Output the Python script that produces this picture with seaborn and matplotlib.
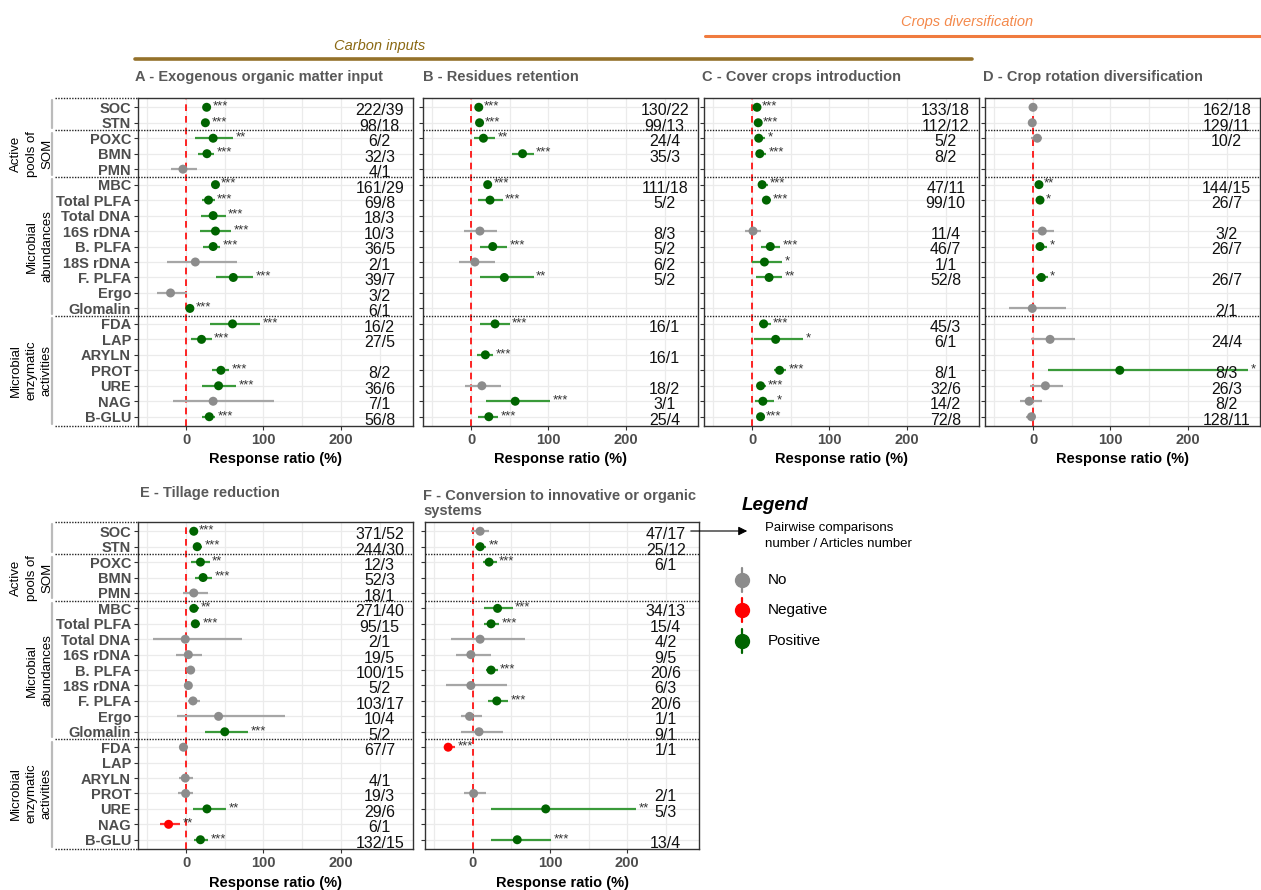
import numpy as np
import pandas as pd
import matplotlib
matplotlib.use("Agg")
import matplotlib.pyplot as plt
import matplotlib.transforms as mtransforms
from matplotlib.lines import Line2D
from matplotlib.patches import FancyArrowPatch
import seaborn as sns

nan = np.nan

categories = ["SOC", "STN", "POXC", "BMN", "PMN", "MBC", "Total PLFA", "Total DNA",
              "16S rDNA", "B. PLFA", "18S rDNA", "F. PLFA", "Ergo", "Glomalin",
              "FDA", "LAP", "ARYLN", "PROT", "URE", "NAG", "B-GLU"]
group_labels = ["Active\npools of\nSOM", "Microbial\nabundances", "Microbial\nenzymatic\nactivities"]
x_ticks = [0, 100, 200]

# Panel A - Exogenous organic matter input
A_est = [26.6, 25, 35, 27, -4, 38, 29, 35, 38, 35, 12, 61, -20, 5, 60, 20, nan, 45, 42, 35, 30]
A_lo = [22, 20, 11, 16, -20, 34, 21, 19, 18, 22, -24, 39, -38, 1, 31, 7, nan, 33, 20, -17, 21]
A_hi = [31, 30, 61, 36, 14, 42, 37, 51, 58, 44, 66, 87, 1, 10, 96, 33, nan, 56, 65, 114, 38]
A_sig = ["***", "***", "**", "***", "", "***", "***", "***", "***", "***", "", "***", "", "***",
         "***", "***", "", "***", "***", "", "***"]
A_n = ["222/39", "98/18", "6/2", "32/3", "4/1", "161/29", "69/8", "18/3", "10/3", "36/5", "2/1",
       "39/7", "3/2", "6/1", "16/2", "27/5", "", "8/2", "36/6", "7/1", "56/8"]

# Panel B - Residues retention
B_est = [10, 11, 16, 66.5, nan, 21.5, 24.5, nan, 11.5, 28, 5, 43, nan, nan, 31, nan, 18.5, nan, 14, 57, 23]
B_lo = [6, 7, 4, 53, nan, 17, 9, nan, -9, 11, -16, 11, nan, nan, 12, nan, 8, nan, -8, 19, 9]
B_hi = [14, 15, 31, 81, nan, 26, 41, nan, 33, 47, 31, 81, nan, nan, 50, nan, 29, nan, 39, 102, 35]
B_sig = ["***", "***", "**", "***", "", "***", "***", "", "", "***", "", "**", "", "",
         "***", "", "***", "", "", "***", "***"]
B_n = ["130/22", "99/13", "24/4", "35/3", "", "111/18", "5/2", "", "8/3", "5/2", "6/2", "5/2",
       "", "", "16/1", "", "16/1", "", "18/2", "3/1", "25/4"]

# Panel C - Cover crops introduction
C_est = [6.4, 8, 8.6, 10, nan, 13, 18.5, nan, 1.3, 23.6, 16, 22, nan, nan, 15, 30.5, nan, 35.6, 11, 14, 11]
C_lo = [3, 5, 3.4, 5, nan, 9, 14, nan, -9, 11, 0, 5.6, nan, nan, 8.6, 2, nan, 28, 7, 3.4, 8]
C_hi = [10, 11, 17, 18, nan, 20, 24, nan, 11, 36.5, 38.6, 38.6, nan, nan, 24, 66, nan, 44, 17.6, 29, 15]
C_sig = ["***", "***", "*", "***", "", "***", "***", "", "", "***", "*", "**", "", "",
         "***", "*", "", "***", "***", "*", "***"]
C_n = ["133/18", "112/12", "5/2", "8/2", "", "47/11", "99/10", "", "11/4", "46/7", "1/1", "52/8",
       "", "", "45/3", "6/1", "", "8/1", "32/6", "14/2", "72/8"]

# Panel D - Crop rotation diversification
D_est = [0, -1, 5.5, nan, nan, 7.7, 9, nan, 12, 9, nan, 10.7, nan, -1, nan, 22, nan, 112, 16, -5, -2]
D_lo = [-1.5, -2.5, -2, nan, nan, 5, 4, nan, -1, 3.4, nan, 4, nan, -31, nan, -3, nan, 19, -4, -17, -8.5]
D_hi = [1.5, 0.5, 12, nan, nan, 10.5, 14, nan, 26.5, 18, nan, 19, nan, 42, nan, 54, nan, 278, 39, 11, 2]
D_sig = ["", "", "", "", "", "**", "*", "", "", "*", "", "*", "", "", "", "", "", "*", "", "", ""]
D_n = ["162/18", "129/11", "10/2", "", "", "144/15", "26/7", "", "3/2", "26/7", "", "26/7", "",
       "2/1", "", "24/4", "", "8/3", "26/3", "8/2", "128/11"]

# Panel E - Tillage reduction
E_est = [10, 14.4, 18.6, 22, 10, 10, 12, -1, 3, 6, 3, 9, 42, 50, -3.4, nan, -1, -0.5, 27, -22.5, 18.6]
E_lo = [7, 9, 7, 11, -3.4, 5, 7, -43, -13, 2, -0.5, 2, -12, 25, -7, nan, -9, -10, 9, -33, 10]
E_hi = [13, 21, 30.5, 33.5, 29, 16.5, 18.6, 72, 20, 11.4, 7, 18.6, 127.5, 80, 3, nan, 9, 9, 52, -7.6, 29]
E_sig = ["***", "***", "**", "***", "", "**", "***", "", "", "", "", "", "", "***", "", "", "", "",
         "**", "**", "***"]
E_n = ["371/52", "244/30", "12/3", "52/3", "18/1", "271/40", "95/15", "2/1", "19/5", "100/15", "5/2",
       "103/17", "10/4", "5/2", "67/7", "", "4/1", "19/3", "29/6", "6/1", "132/15"]

# Panel F - Conversion to innovative or organic systems
F_est = [9.4, 9.4, 21, nan, nan, 32, 23.6, 9.4, -2.6, 23.6, -2.6, 31, -4.3, 8, -32, nan, nan, 1, 94.4, nan, 57.5]
F_lo = [-2, 3, 13, nan, nan, 14.6, 14.6, -28, -21.5, 17, -35, 19, -16, -16, -36.5, nan, nan, -11, 23.6, nan, 23.6]
F_hi = [21.5, 17, 31, nan, nan, 51.5, 34, 67, 23.6, 32, 44.6, 46, 11.6, 38.6, -23, nan, nan, 17, 212, nan, 101.7]
F_sig = ["", "**", "***", "", "", "***", "***", "", "", "***", "", "***", "", "", "***", "", "", "",
         "**", "", "***"]
F_n = ["47/17", "25/12", "6/1", "", "", "34/13", "15/4", "4/2", "9/5", "20/6", "6/3", "20/6", "1/1",
       "9/1", "1/1", "", "", "2/1", "5/3", "", "13/4"]

panel_titles = ["A - Exogenous organic matter input", "B - Residues retention",
                "C - Cover crops introduction", "D - Crop rotation diversification",
                "E - Tillage reduction", "F - Conversion to innovative or organic\nsystems"]

# ---------------------------------------------------------------- style
sns.set_theme(style="ticks")
plt.rcParams["font.family"] = ["Liberation Sans", "DejaVu Sans"]

W, H = 1261, 890
fig = plt.figure(figsize=(W / 100, H / 100), dpi=100)


def rect(l, t, w, h):
    return [l / W, 1 - (t + h) / H, w / W, h / H]


point_col = {"No": "#8C8C8C", "Negative": "#FF0000", "Positive": "#006400"}
line_col = {"No": "#A6A6A6", "Negative": "#FF3030", "Positive": "#3A9A3A"}
TICKGREY = "#4D4D4D"
NROW = len(categories)


def draw_panel(ax, est, lo, hi, sig, n, show_labels, xlabel=True):
    df = pd.DataFrame({"row": np.arange(NROW), "est": est, "lo": lo, "hi": hi, "sig": sig, "n": n})
    df["cls"] = np.where(df["sig"] == "", "No", np.where(df["est"] < 0, "Negative", "Positive"))
    d = df.dropna(subset=["est"])
    ax.set_xlim(-62, 293)
    ax.set_ylim(NROW - 0.4, -0.6)
    ax.set_xticks(x_ticks)
    ax.set_xticks([-50, 50, 150, 250], minor=True)
    ax.set_yticks(np.arange(NROW))
    ax.grid(True, which="both", color="#EBEBEB", lw=0.9, zorder=0)
    ax.set_axisbelow(True)
    ax.axvline(0, color="#FF0000", ls=(0, (4, 3)), lw=1.2, zorder=2)
    for _, r in d.iterrows():
        ax.hlines(r["row"], r["lo"], r["hi"], color=line_col[r["cls"]], lw=1.6, zorder=3)
    sns.scatterplot(data=d, x="est", y="row", hue="cls", palette=point_col,
                    hue_order=["No", "Negative", "Positive"], s=42, edgecolor="none",
                    legend=False, ax=ax, zorder=4)
    for _, r in d.iterrows():
        if r["sig"]:
            ax.text(r["hi"] + 3, r["row"] - 0.05, r["sig"], fontsize=9.5, color="#333333",
                    ha="left", va="center", zorder=5)
    for _, r in df.iterrows():
        if r["n"]:
            ax.text(250, r["row"] + 0.22, r["n"], fontsize=11.5, color="#111111",
                    ha="center", va="center", zorder=5)
    for b in [1.5, 4.5, 13.5]:
        ax.axhline(b, color="#222222", ls=(0, (1, 1)), lw=1.0, zorder=5)
    ax.tick_params(axis="y", which="major", length=3, width=0.8, color="#333333",
                   labelsize=10.5, labelcolor=TICKGREY, pad=2)
    ax.tick_params(axis="x", which="major", length=3, width=0.8, color="#333333",
                   labelsize=10.5, labelcolor=TICKGREY, pad=2)
    ax.tick_params(axis="x", which="minor", length=0)
    if show_labels:
        ax.set_yticklabels(categories, fontweight="bold")
    else:
        ax.set_yticklabels([])
    for lab in ax.get_xticklabels():
        lab.set_fontweight("bold")
    ax.set_ylabel("")
    if xlabel:
        ax.set_xlabel("Response ratio (%)", fontsize=10.5, fontweight="bold", color="black", labelpad=4)
    else:
        ax.set_xlabel("")
    for s in ax.spines.values():
        s.set_color("#333333")
        s.set_linewidth(1.0)


def draw_groups(ax):
    tr = mtransforms.blended_transform_factory(fig.transFigure, ax.transData)
    for b in [-0.6, 1.5, 4.5, 13.5, NROW - 0.4]:
        fig.add_artist(Line2D([55 / W, ax.get_position().x0], [b, b], transform=tr,
                              color="#222222", ls=(0, (1, 1)), lw=1.0))
    spans = [(-0.6, 1.5), (1.5, 4.5), (4.5, 13.5), (13.5, NROW - 0.4)]
    for a, b in spans:
        fig.add_artist(Line2D([52 / W, 52 / W], [a + 0.15, b - 0.15], transform=tr,
                              color="#BBBBBB", lw=1.6))
    centers = [(32, 3), (39.5, 9), (31, 17)]
    for (xp, yc), lab in zip(centers, group_labels):
        t = fig.text(xp / W, 0, lab, transform=tr, rotation=90, ha="center", va="center",
                     fontsize=9.5, color="black", linespacing=1.4, multialignment="center")
        t.set_position((xp / W, yc))


panels = [
    (rect(138, 98, 275, 328), A_est, A_lo, A_hi, A_sig, A_n, True),
    (rect(423, 98, 275, 328), B_est, B_lo, B_hi, B_sig, B_n, False),
    (rect(704, 98, 275, 328), C_est, C_lo, C_hi, C_sig, C_n, False),
    (rect(985, 98, 275, 328), D_est, D_lo, D_hi, D_sig, D_n, False),
    (rect(138, 522, 275, 327), E_est, E_lo, E_hi, E_sig, E_n, True),
    (rect(425, 522, 274, 327), F_est, F_lo, F_hi, F_sig, F_n, False),
]
axes = []
for r, est, lo, hi, sig, n, lab in panels:
    ax = fig.add_axes(r)
    draw_panel(ax, est, lo, hi, sig, n, lab)
    axes.append(ax)

draw_groups(axes[0])
draw_groups(axes[4])

# titles
title_pos = [(135, 77), (423, 77), (702, 77), (983, 77), (140, 493), (423, 489)]
for (x, y), t in zip(title_pos, panel_titles):
    fig.text(x / W, 1 - y / H, t, fontsize=10.5, fontweight="bold", color="#595959",
             ha="left", va="center" if "\n" not in t else "top", linespacing=1.1)

# header bands
fig.add_artist(Line2D([135 / W, 972 / W], [1 - 59 / H] * 2, transform=fig.transFigure,
                      color="#94712A", lw=2.6))
fig.text(380 / W, 1 - 46 / H, "Carbon inputs", fontsize=10.5, style="italic",
         color="#8B6914", ha="center", va="center")
fig.add_artist(Line2D([705 / W, 1261 / W], [1 - 36 / H] * 2, transform=fig.transFigure,
                      color="#F07B3F", lw=2.2))
fig.text(967 / W, 1 - 22 / H, "Crops diversification", fontsize=10.5, style="italic",
         color="#F4894B", ha="center", va="center")

# legend
fig.text(742 / W, 1 - 505 / H, "Legend", fontsize=13.5, fontweight="bold", style="italic",
         ha="left", va="center", color="black")
fig.add_artist(FancyArrowPatch((688 / W, 1 - 531 / H), (750 / W, 1 - 531 / H),
                               transform=fig.transFigure, arrowstyle="-|>",
                               mutation_scale=13, color="black", lw=0.8))
fig.text(765 / W, 1 - 522 / H, "Pairwise comparisons\nnumber / Articles number",
         fontsize=9.5, ha="left", va="top", color="black", linespacing=1.45)
leg_items = [("No", "#8C8C8C", 580), ("Negative", "#FF0000", 610), ("Positive", "#006400", 641)]
for lab, col, y in leg_items:
    fig.add_artist(Line2D([742 / W, 742 / W], [1 - (y - 12) / H, 1 - (y + 12) / H],
                          transform=fig.transFigure, color=col, lw=1.6))
    fig.add_artist(Line2D([742 / W], [1 - y / H], transform=fig.transFigure, color=col,
                          marker="o", ms=10, ls="none"))
    fig.text(768 / W, 1 - y / H, lab, fontsize=11, ha="left", va="center", color="black")

fig.savefig("out.png", dpi=100)
